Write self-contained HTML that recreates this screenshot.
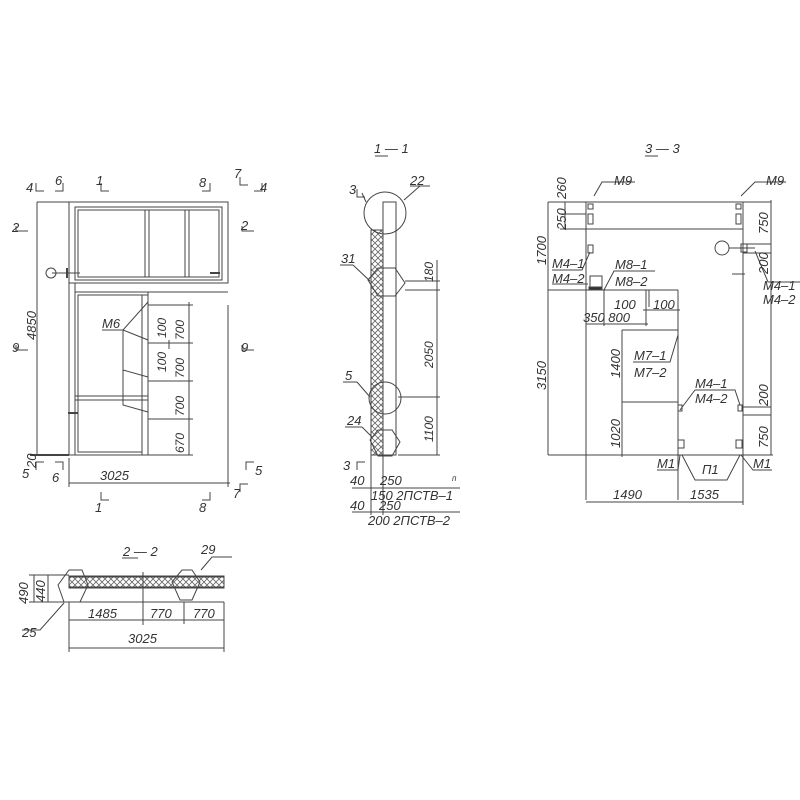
<!DOCTYPE html>
<html><head><meta charset="utf-8"><style>
html,body{margin:0;padding:0;background:#fff;}
svg{display:block}
text{font-family:"Liberation Sans",sans-serif;font-style:italic;fill:#333;font-size:13px}
</style></head><body>
<svg width="800" height="800" viewBox="0 0 800 800" xmlns="http://www.w3.org/2000/svg">
<defs>
<pattern id="x" width="6" height="6" patternUnits="userSpaceOnUse"><path d="M0 0L6 6M6 0L0 6" stroke="#666" stroke-width="0.8"/></pattern>
</defs>
<g stroke="#444" stroke-width="1" fill="none">
<line x1="37" y1="202" x2="228" y2="202"/>
<line x1="37" y1="202" x2="37" y2="455"/>
<line x1="30" y1="455" x2="69" y2="455" stroke-width="2"/>
<rect x="69" y="202" width="159" height="81"/>
<rect x="75" y="207" width="147" height="73"/>
<rect x="78" y="210" width="141" height="67"/>
<rect x="145" y="210" width="4" height="67"/>
<rect x="185" y="210" width="4" height="67"/>
<line x1="69" y1="283" x2="69" y2="455"/>
<line x1="75" y1="283" x2="75" y2="455"/>
<rect x="75" y="292" width="73" height="163"/>
<rect x="78" y="295" width="64" height="157"/>
<rect x="142" y="295" width="6" height="160"/>
<line x1="148" y1="292" x2="228" y2="292"/>
<rect x="75" y="396" width="73" height="4"/>
<line x1="69" y1="455" x2="148" y2="455"/>
<line x1="52" y1="273" x2="80" y2="273"/>
<line x1="67" y1="268" x2="67" y2="278" stroke-width="2"/>
<line x1="210" y1="273" x2="220" y2="273" stroke-width="2"/>
<line x1="68" y1="413" x2="78" y2="413" stroke-width="2"/>
<circle cx="51" cy="273" r="5"/>
<line x1="189" y1="302" x2="189" y2="455"/>
<line x1="148" y1="305" x2="193" y2="305"/>
<line x1="148" y1="343" x2="193" y2="343"/>
<line x1="148" y1="381" x2="193" y2="381"/>
<line x1="148" y1="419" x2="193" y2="419"/>
<line x1="148" y1="455" x2="193" y2="455"/>
<line x1="169" y1="340" x2="169" y2="349"/>
<polyline points="102,330 123,330 148,302"/>
<polyline points="123,330 148,340"/>
<polyline points="123,330 123,405 148,412"/>
<polyline points="123,370 148,377"/>
<line x1="69" y1="483" x2="230" y2="483"/>
<line x1="69" y1="458" x2="69" y2="487"/>
<line x1="228" y1="305" x2="228" y2="487"/>
<path d="M36 183v8h8M63 183v8h-8M101 183v8h8M210 183v8h-8M240 177v8h8M262 183v8h-8M16 226v5h12M242 226v5h12M16 345v5h12M242 345v5h12M36 470v-8h8M63 470v-8h-8M101 492v8h8M210 492v8h-8M246 470v-8h8M240 492v-8h8"/>
<line x1="375" y1="156" x2="388" y2="156"/>
<rect x="371" y="230" width="12" height="225" fill="url(#x)"/>
<rect x="383" y="202" width="13" height="253"/>
<line x1="371" y1="455" x2="371" y2="515"/>
<line x1="383" y1="455" x2="383" y2="515"/>
<circle cx="385" cy="213" r="21"/>
<polygon points="368,280 378,268 395,268 405,283 395,296 378,296"/>
<circle cx="385" cy="398" r="16"/>
<polygon points="370,440 378,430 392,430 400,442 392,456 378,456"/>
<line x1="362" y1="193" x2="366" y2="202"/>
<line x1="404" y1="200" x2="420" y2="186"/>
<line x1="410" y1="186" x2="430" y2="186"/>
<line x1="340" y1="265" x2="353" y2="265"/><line x1="353" y1="265" x2="370" y2="281"/>
<line x1="343" y1="382" x2="357" y2="382"/><line x1="357" y1="382" x2="370" y2="397"/>
<line x1="345" y1="427" x2="362" y2="427"/><line x1="362" y1="427" x2="372" y2="437"/>
<line x1="437" y1="260" x2="437" y2="455"/>
<line x1="405" y1="281" x2="440" y2="281"/>
<line x1="405" y1="290" x2="440" y2="290"/>
<line x1="398" y1="397" x2="440" y2="397"/>
<line x1="398" y1="455" x2="440" y2="455"/>
<line x1="352" y1="488" x2="460" y2="488"/>
<line x1="352" y1="512" x2="460" y2="512"/>
<path d="M357 189v8h8M357 470v-8h8"/>
<line x1="645" y1="156" x2="658" y2="156"/>
<rect x="586" y="202" width="157" height="27"/>
<rect x="588" y="204" width="5" height="5"/><rect x="736" y="204" width="5" height="5"/>
<rect x="588" y="214" width="5" height="10"/><rect x="736" y="214" width="5" height="10"/>
<rect x="588" y="245" width="5" height="8"/>
<line x1="548" y1="202" x2="586" y2="202"/>
<line x1="548" y1="202" x2="548" y2="455"/>
<line x1="565" y1="202" x2="565" y2="229"/>
<line x1="560" y1="214" x2="586" y2="214"/>
<line x1="560" y1="229" x2="586" y2="229"/>
<line x1="586" y1="229" x2="586" y2="500"/>
<line x1="743" y1="202" x2="743" y2="455"/>
<line x1="743" y1="202" x2="771" y2="202"/>
<line x1="771" y1="200" x2="771" y2="455"/>
<line x1="743" y1="244" x2="771" y2="244"/>
<line x1="743" y1="253" x2="771" y2="253"/>
<line x1="743" y1="407" x2="771" y2="407"/>
<line x1="743" y1="415" x2="771" y2="415"/>
<line x1="548" y1="290" x2="678" y2="290"/>
<rect x="590" y="276" width="12" height="14"/>
<rect x="589" y="287" width="12" height="3" fill="#333"/>
<line x1="678" y1="290" x2="678" y2="500"/>
<line x1="548" y1="455" x2="773" y2="455"/>
<rect x="678" y="440" width="6" height="8"/><rect x="736" y="440" width="6" height="8"/>
<rect x="678" y="405" width="4" height="6"/><rect x="738" y="405" width="4" height="6"/>
<rect x="741" y="244" width="6" height="8"/>
<circle cx="722" cy="248" r="7"/>
<line x1="729" y1="248" x2="755" y2="248"/>
<line x1="732" y1="274" x2="745" y2="274"/>
<line x1="604" y1="290" x2="604" y2="300"/>
<line x1="646" y1="290" x2="646" y2="300"/>
<line x1="649" y1="290" x2="649" y2="307"/>
<line x1="586" y1="324" x2="648" y2="324"/>
<line x1="604" y1="290" x2="604" y2="326"/>
<line x1="646" y1="300" x2="646" y2="326"/>
<line x1="643" y1="310" x2="680" y2="310"/>
<line x1="622" y1="330" x2="678" y2="330"/>
<line x1="622" y1="330" x2="622" y2="457"/>
<line x1="622" y1="402" x2="678" y2="402"/>
<line x1="586" y1="502" x2="743" y2="502"/>
<line x1="743" y1="455" x2="743" y2="505"/>
<polyline points="594,196 602,182 635,182"/>
<polyline points="741,196 755,182 786,182"/>
<polyline points="552,270 582,270 590,252"/>
<line x1="552" y1="284" x2="588" y2="284"/>
<polyline points="604,290 614,271 655,271"/>
<polyline points="633,362 670,362 678,335"/>
<polyline points="680,410 695,390 735,390 740,405"/>
<polyline points="755,251 768,282 800,282"/>
<polyline points="657,470 678,470 680,455"/>
<polyline points="682,455 695,480 727,480 740,455"/>
<polyline points="741,455 753,470 772,470"/>
<line x1="122" y1="558" x2="138" y2="558"/>
<rect x="69" y="577" width="155" height="10" fill="url(#x)"/>
<rect x="69" y="576" width="155" height="12"/>
<line x1="69" y1="602" x2="224" y2="602"/>
<line x1="29" y1="575" x2="69" y2="575"/>
<line x1="29" y1="602" x2="69" y2="602"/>
<line x1="34" y1="575" x2="34" y2="602"/>
<line x1="48" y1="575" x2="48" y2="602"/>
<line x1="143" y1="572" x2="143" y2="625"/>
<polygon points="58,585 69,570 82,570 88,585 80,602 64,602"/>
<polygon points="172,582 182,570 192,570 200,582 192,600 180,600"/>
<polyline points="201,570 212,557 232,557"/>
<polyline points="64,603 40,630 22,630"/>
<line x1="69" y1="620" x2="224" y2="620"/>
<line x1="69" y1="648" x2="224" y2="648"/>
<line x1="69" y1="602" x2="69" y2="652"/>
<line x1="224" y1="602" x2="224" y2="652"/>
<line x1="184" y1="602" x2="184" y2="624"/>
</g>
<g>
<text x="26" y="192">4</text><text x="55" y="185">6</text><text x="96" y="185">1</text><text x="199" y="187">8</text><text x="234" y="178">7</text><text x="260" y="192">4</text>
<text x="12" y="232">2</text><text x="241" y="230">2</text><text x="12" y="352">9</text><text x="241" y="352">9</text>
<text x="22" y="478">5</text><text x="52" y="482">6</text><text x="255" y="475">5</text><text x="233" y="498">7</text><text x="95" y="512">1</text><text x="199" y="512">8</text>
<text x="102" y="328">M6</text>
<text x="100" y="480">3025</text>
<text transform="translate(36,340) rotate(-90)">4850</text>
<text transform="translate(36,468) rotate(-90)">20</text>
<text transform="translate(184,340) rotate(-90)" style="font-size:12px">700</text>
<text transform="translate(184,378) rotate(-90)" style="font-size:12px">700</text>
<text transform="translate(184,416) rotate(-90)" style="font-size:12px">700</text>
<text transform="translate(184,453) rotate(-90)" style="font-size:12px">670</text>
<text transform="translate(166,338) rotate(-90)" style="font-size:12px">100</text>
<text transform="translate(166,372) rotate(-90)" style="font-size:12px">100</text>
<text x="374" y="153">1 &#8212; 1</text>
<text x="349" y="194">3</text><text x="410" y="185">22</text><text x="341" y="263">31</text><text x="345" y="380">5</text><text x="347" y="425">24</text><text x="343" y="470">3</text>
<text transform="translate(433,282) rotate(-90)" style="font-size:12px">180</text>
<text transform="translate(433,368) rotate(-90)" style="font-size:12px">2050</text>
<text transform="translate(433,442) rotate(-90)" style="font-size:12px">1100</text>
<text x="350" y="485">40</text><text x="380" y="485">250</text><text x="452" y="481" style="font-size:8px">п</text>
<text x="371" y="500">150 2ПСТВ–1</text>
<text x="350" y="510">40</text><text x="379" y="510">250</text>
<text x="368" y="525">200 2ПСТВ–2</text>
<text x="645" y="153">3 &#8212; 3</text>
<text x="614" y="185">M9</text><text x="766" y="185">M9</text>
<text transform="translate(566,199) rotate(-90)">260</text>
<text transform="translate(566,230) rotate(-90)">250</text>
<text transform="translate(546,265) rotate(-90)">1700</text>
<text transform="translate(546,390) rotate(-90)">3150</text>
<text transform="translate(768,234) rotate(-90)">750</text>
<text transform="translate(768,274) rotate(-90)">200</text>
<text transform="translate(768,406) rotate(-90)">200</text>
<text transform="translate(768,448) rotate(-90)">750</text>
<text transform="translate(620,378) rotate(-90)">1400</text>
<text transform="translate(620,448) rotate(-90)">1020</text>
<text x="552" y="268">M4–1</text><text x="552" y="283">M4–2</text>
<text x="615" y="269">M8–1</text><text x="615" y="286">M8–2</text>
<text x="614" y="309">100</text><text x="653" y="309">100</text>
<text x="583" y="322">350 800</text>
<text x="634" y="360">M7–1</text><text x="634" y="377">M7–2</text>
<text x="695" y="388">M4–1</text><text x="695" y="403">M4–2</text>
<text x="763" y="290">M4–1</text><text x="763" y="304">M4–2</text>
<text x="657" y="468">M1</text><text x="702" y="474">П1</text><text x="753" y="468">M1</text>
<text x="613" y="499">1490</text><text x="690" y="499">1535</text>
<text x="123" y="556">2 &#8212; 2</text><text x="201" y="554">29</text>
<text transform="translate(28,604) rotate(-90)">490</text>
<text transform="translate(45,602) rotate(-90)">440</text>
<text x="88" y="618">1485</text><text x="150" y="618">770</text><text x="193" y="618">770</text>
<text x="128" y="643">3025</text>
<text x="22" y="637">25</text>
</g>
</svg>
</body></html>
